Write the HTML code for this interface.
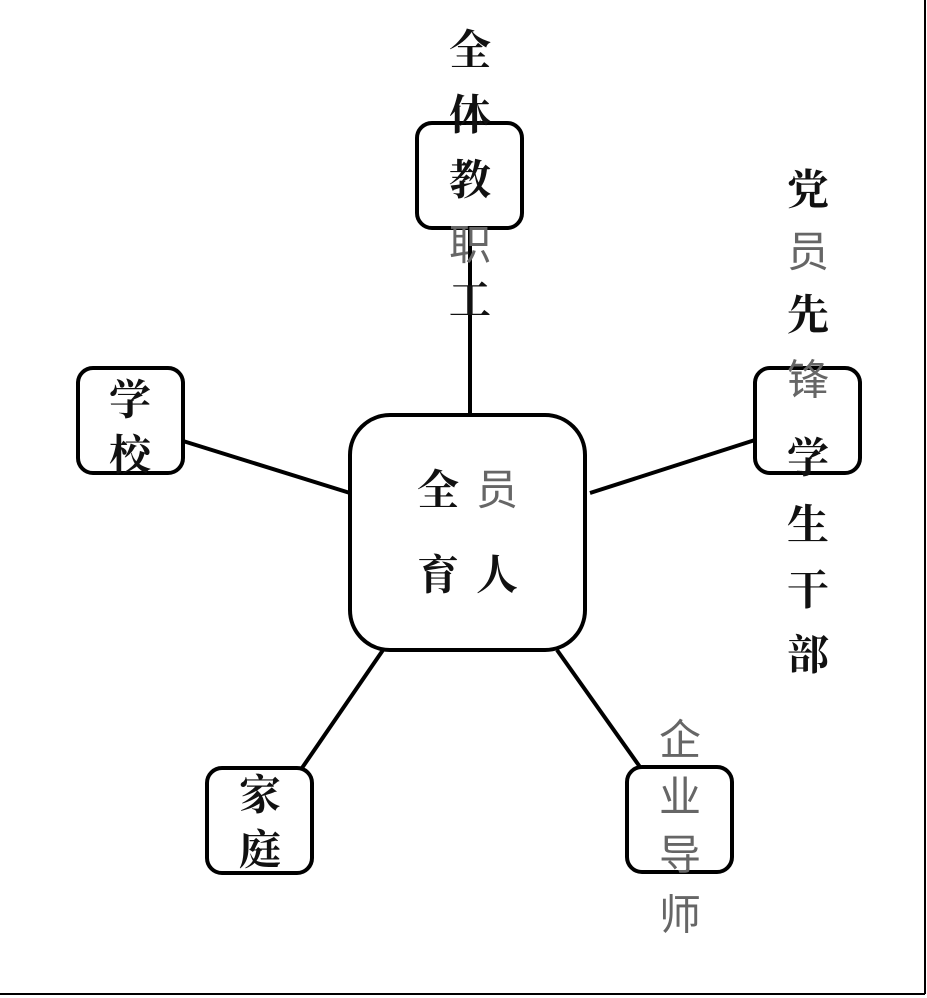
<!DOCTYPE html>
<html><head><meta charset="utf-8"><style>
html,body{margin:0;padding:0;background:#fff;}
svg{display:block}
text{font-family:"Liberation Sans","Noto Serif CJK SC","Noto Sans CJK SC",serif;text-anchor:middle;dominant-baseline:central;font-size:42px}
.b{font-weight:bold;fill:#111}
.g{font-weight:normal;fill:#666;font-family:"Liberation Sans","Noto Sans CJK SC",sans-serif}
</style></head><body>
<svg width="927" height="998" viewBox="0 0 927 998">
<rect width="927" height="998" fill="#fff"/>
<line x1="925" y1="0" x2="925" y2="994" stroke="#000" stroke-width="2"/>
<line x1="0" y1="994" x2="925" y2="994" stroke="#000" stroke-width="2"/>
<g stroke="#000" stroke-width="4" fill="none">
<line x1="470" y1="228" x2="470" y2="415"/>
<line x1="183" y1="441" x2="350" y2="493"/>
<line x1="590" y1="493" x2="755" y2="440"/>
<line x1="383" y1="650" x2="302" y2="768"/>
<line x1="557" y1="650" x2="640" y2="767"/>
<rect x="350" y="415" width="235" height="235" rx="40"/>
<rect x="417" y="123" width="105" height="105" rx="15"/>
<rect x="78" y="368" width="105" height="105" rx="15"/>
<rect x="755" y="368" width="105" height="105" rx="15"/>
<rect x="207" y="768" width="105" height="105" rx="15"/>
<rect x="627" y="767" width="105" height="105" rx="15"/>
</g>
<text class="b" x="470" y="50">全</text>
<text class="b" x="470" y="115">体</text>
<text class="b" x="470" y="180">教</text>
<text class="g" x="470" y="245">职</text>
<text class="b" x="470" y="300">工</text>
<text class="b" x="808" y="190">党</text>
<text class="g" x="808" y="252">员</text>
<text class="b" x="808" y="315">先</text>
<text class="g" x="808" y="380">锋</text>
<text class="b" x="808" y="458">学</text>
<text class="b" x="808" y="525">生</text>
<text class="b" x="808" y="590">干</text>
<text class="b" x="808" y="655">部</text>
<text class="b" x="438" y="490">全</text>
<text class="g" x="497" y="490">员</text>
<text class="b" x="438" y="575">育</text>
<text class="b" x="497" y="575">人</text>
<text class="b" x="130" y="400">学</text>
<text class="b" x="130" y="455">校</text>
<text class="b" x="260" y="795">家</text>
<text class="b" x="260" y="850">庭</text>
<text class="g" x="680" y="740">企</text>
<text class="g" x="680" y="797">业</text>
<text class="g" x="680" y="855">导</text>
<text class="g" x="680" y="915">师</text>
</svg>
</body></html>
